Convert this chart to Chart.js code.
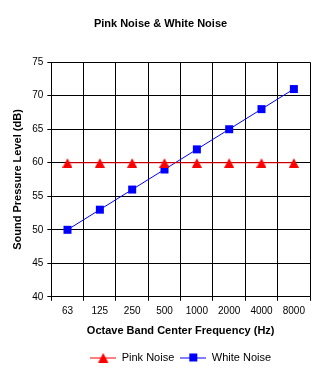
<!DOCTYPE html>
<html>
<head>
<meta charset="utf-8">
<script src="https://cdn.jsdelivr.net/npm/chart.js@4"></script>
<style>
  html, body { margin: 0; padding: 0; background: #fff; }
</style>
</head>
<body>
<canvas id="chart" width="325" height="383"></canvas>
<script>
// data
const bands      = ['63', '125', '250', '500', '1000', '2000', '4000', '8000'];
const pinkNoise  = [60, 60, 60, 60, 60, 60, 60, 60];
const whiteNoise = [50, 53, 56, 59, 62, 65, 68, 71];
const yMin = 40, yMax = 75, yStep = 5;

const RED = '#ff0000', BLUE = '#0000ff';

// marker images (also used for the legend, with a line through them)
function marker(kind, color, lineW) {
  const w = lineW || 10, h = 10;
  const c = document.createElement('canvas');
  c.width = w; c.height = h;
  const g = c.getContext('2d');
  g.fillStyle = color;
  if (lineW) g.fillRect(0, 5, w, 1);
  const cx = w / 2;
  if (kind === 'tri') {
    g.beginPath();
    g.moveTo(cx, 0.5);
    g.lineTo(cx + 5, 10);
    g.lineTo(cx - 5, 10);
    g.closePath();
    g.fill();
  } else {
    g.fillRect(cx - 4, 1, 8, 8);
  }
  return c;
}

const pinkPt  = marker('tri', RED);
const whitePt = marker('sq', BLUE);
const legendImgs = [marker('tri', RED, 26), marker('sq', BLUE, 26)];

Chart.defaults.font.family = '"Liberation Sans", Arial, sans-serif';
Chart.defaults.color = '#000';

new Chart(document.getElementById('chart').getContext('2d'), {
  type: 'line',
  data: {
    labels: bands,
    datasets: [
      {label: 'Pink Noise', data: pinkNoise, borderColor: RED, backgroundColor: RED,
       borderWidth: 1, pointStyle: pinkPt, pointRadius: 5},
      {label: 'White Noise', data: whiteNoise, borderColor: BLUE, backgroundColor: BLUE,
       borderWidth: 1, pointStyle: whitePt, pointRadius: 5},
    ],
  },
  options: {
    responsive: false, animation: false,
    layout: {padding: {left: 11, right: 15, bottom: 10}},
    plugins: {
      title: {
        display: true, text: 'Pink Noise & White Noise', color: '#000',
        font: {size: 11, weight: 'bold'}, padding: {top: 17, bottom: 32},
      },
      legend: {
        position: 'bottom', fullSize: false,
        labels: {
          usePointStyle: true, pointStyleWidth: 26, boxHeight: 10, padding: 6,
          font: {size: 11}, color: '#000',
          generateLabels: chart => chart.data.datasets.map((d, i) => ({
            text: d.label, fillStyle: d.borderColor, strokeStyle: d.borderColor,
            lineWidth: 0, hidden: false, datasetIndex: i, pointStyle: legendImgs[i],
          })),
        },
      },
      tooltip: {enabled: false},
    },
    scales: {
      x: {
        offset: true,
        grid: {offset: true, color: '#000', tickLength: 4},
        border: {color: '#000'},
        ticks: {color: '#000', padding: 4, font: {size: 10}, maxRotation: 0, autoSkip: false},
        title: {display: true, text: 'Octave Band Center Frequency (Hz)', color: '#000',
                font: {size: 11, weight: 'bold'}, padding: {top: 4, bottom: 8}},
      },
      y: {
        min: yMin, max: yMax,
        grid: {color: '#000', tickLength: 4},
        border: {color: '#000'},
        ticks: {stepSize: yStep, color: '#000', padding: 4, font: {size: 10}},
        title: {display: true, text: 'Sound Pressure Level (dB)', color: '#000',
                font: {size: 11, weight: 'bold'}, padding: {top: 0, bottom: 4}},
      },
    },
  },
});
</script>
</body>
</html>
